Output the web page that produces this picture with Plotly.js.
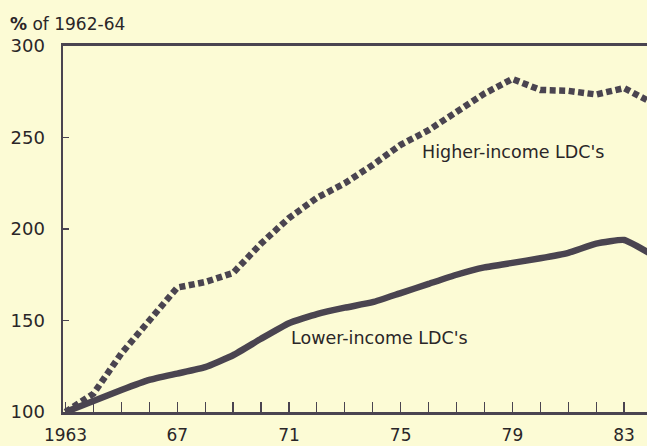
<!DOCTYPE html>
<html>
<head>
<meta charset="utf-8">
<script src="https://cdn.plot.ly/plotly-3.0.1.min.js"></script>
<style>html,body{margin:0;padding:0;background:#fcfbd5;}</style>
</head>
<body>
<div id="chart" style="width:647px;height:446px;"></div>
<script>
const years = [1963,1964,1965,1966,1967,1968,1969,1970,1971,1972,1973,1974,1975,1976,1977,1978,1979,1980,1981,1982,1983,1984];
const lowerIncome = [100,106,112,117.5,121,124.5,131,140,148.5,153.5,157,160,165,170,175,179,181.5,184,187,192,194,186];
const higherIncome = [100,110,132,150,168,171,176,192,206,217,225,235,246,254,264,274,282,276,275.5,273.5,277,269];
const tickYears = years;
const tickLabels = years.map(y => ({1963:'1963',1967:'67',1971:'71',1975:'75',1979:'79',1983:'83'}[y] || ''));
const yTicks = [100,150,200,250,300];

const ink = '#4a4450';
const font = 'DejaVu Sans, Verdana, sans-serif';

const traces = [
  {x: years, y: lowerIncome, mode: 'lines', line: {color: ink, width: 6.5, shape: 'spline', smoothing: 0.4}, hoverinfo: 'skip'},
  {x: years, y: higherIncome, mode: 'lines', line: {color: ink, width: 6.5, dash: '6px,3.5px'}, hoverinfo: 'skip'}
];

const layout = {
  width: 647, height: 446,
  paper_bgcolor: '#fcfbd5', plot_bgcolor: '#fcfbd5',
  margin: {l: 63, r: 0, t: 46, b: 34},
  showlegend: false,
  font: {family: font, color: '#2a2628', size: 17},
  xaxis: {
    range: [1962.91, 1983.82], tickmode: 'array', tickvals: tickYears, ticktext: tickLabels,
    ticks: 'inside', ticklen: 10, tickwidth: 1.2, tickcolor: ink,
    showline: true, linewidth: 3, linecolor: ink, mirror: true,
    showgrid: false, zeroline: false, ticklabelstandoff: 6,
    tickfont: {size: 17}
  },
  yaxis: {
    range: [100, 300], tickmode: 'array', tickvals: yTicks,
    ticks: 'inside', ticklen: 6, tickwidth: 1.2, tickcolor: ink,
    showline: true, linewidth: 2.5, linecolor: ink,
    showgrid: false, zeroline: false, ticklabelstandoff: 12,
    tickfont: {size: 18}
  },
  annotations: [
    {xref: 'paper', yref: 'paper', x: -0.095, y: 1.0596, xanchor: 'left', yanchor: 'middle', text: '<b>%</b> of 1962-64', showarrow: false, font: {size: 17}},
    {x: 1979.03, y: 242, text: "Higher-income LDC's", showarrow: false, font: {size: 17.5}},
    {x: 1974.25, y: 140.4, text: "Lower-income LDC's", showarrow: false, font: {size: 17.5}}
  ]
};

Plotly.newPlot('chart', traces, layout, {staticPlot: true, displayModeBar: false});
</script>
</body>
</html>
